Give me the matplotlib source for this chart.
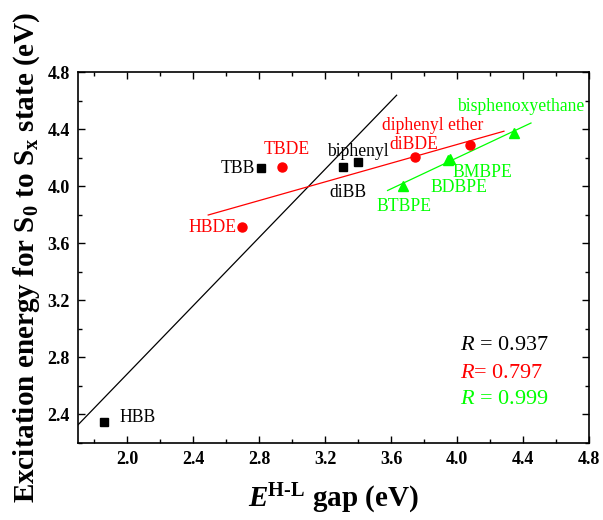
import numpy as np
import matplotlib
matplotlib.use("Agg")
import matplotlib.pyplot as plt
from matplotlib.ticker import MultipleLocator, FormatStrFormatter

plt.rcParams['font.family'] = ['Liberation Serif', 'DejaVu Serif']
plt.rcParams['mathtext.fontset'] = 'custom'
plt.rcParams['mathtext.rm'] = 'Liberation Serif'
plt.rcParams['mathtext.it'] = 'Liberation Serif:italic'
plt.rcParams['mathtext.bf'] = 'Liberation Serif:bold'
plt.rcParams['mathtext.bfit'] = 'Liberation Serif:bold:italic'

# Black series (bromobiphenyls)
bb_names = ["HBB", "TBB", "diBB", "biphenyl"]
bb_x = [1.858, 2.812, 3.305, 3.396]
bb_y = [2.344, 4.126, 4.133, 4.168]

# Red series (bromodiphenyl ethers)
de_names = ["HBDE", "TBDE", "diBDE", "diphenyl ether"]
de_x = [2.697, 2.940, 3.743, 4.077]
de_y = [3.712, 4.133, 4.203, 4.288]

# Green series (bromophenoxy ethanes)
pe_names = ["BTBPE", "BDBPE", "BMBPE", "bisphenoxyethane"]
pe_x = [3.670, 3.945, 3.955, 4.344]
pe_y = [4.000, 4.185, 4.192, 4.372]

# Fit line x-extents
bb_fit_range = [1.70, 3.633]
de_fit_range = [2.49, 4.284]
pe_fit_range = [3.578, 4.448]

r_texts = [r"$R$ = 0.937", r"$R$= 0.797", r"$R$ = 0.999"]

RED = "#ff0000"
GREEN = "#00ff00"

fig = plt.figure(figsize=(6.03, 5.20), dpi=100)
ax = fig.add_axes([78/603, 1-443/520, (589-78)/603, (443-72)/520])

def fit_line(xs, ys, rng, color):
    k, b = np.polyfit(xs, ys, 1)
    xx = np.array(rng)
    ax.plot(xx, k*xx + b, color=color, lw=0.9, zorder=2)

fit_line(bb_x, bb_y, bb_fit_range, "black")
fit_line(de_x, de_y, de_fit_range, RED)
fit_line(pe_x, pe_y, pe_fit_range, GREEN)

ax.plot(bb_x, bb_y, 's', color='black', ms=5.5, zorder=3)
ax.plot(de_x, de_y, 'o', color=RED, ms=6.5, zorder=3)
ax.plot(pe_x, pe_y, '^', color=GREEN, ms=7.5, zorder=3)

fs = 12.7
# labels: (text, x, y, ha, color)
labels = [
    ("HBB", 1.95, 2.379, 'left', 'black'),
    ("TBB", 2.776, 4.126, 'right', 'black'),
    ("diBB", 3.335, 3.958, 'center', 'black'),
    ("biphenyl", 3.396, 4.246, 'center', 'black'),
    ("HBDE", 2.697 - 0.035, 3.712, 'right', RED),
    ("TBDE", 2.964, 4.26, 'center', RED),
    ("diBDE", 3.737, 4.295, 'center', RED),
    ("diphenyl ether", 3.852, 4.428, 'center', RED),
    ("BTBPE", 3.676, 3.86, 'center', GREEN),
    ("BDBPE", 4.010, 3.993, 'center', GREEN),
    ("BMBPE", 4.156, 4.098, 'center', GREEN),
    ("bisphenoxyethane", 4.387, 4.561, 'center', GREEN),
]
for t, x, y, ha, c in labels:
    ax.text(x, y, t, ha=ha, va='center', color=c, fontsize=fs)

r_colors = ['black', RED, GREEN]
r_y = [2.884, 2.688, 2.505]
for t, c, y in zip(r_texts, r_colors, r_y):
    ax.text(4.016, y, t, color=c, fontsize=16, ha='left', va='center')

ax.set_xlim(1.7, 4.8)
ax.set_ylim(2.2, 4.8)
ax.set_xticks(np.arange(2.0, 4.81, 0.4))
ax.set_yticks(np.arange(2.4, 4.81, 0.4))
ax.xaxis.set_minor_locator(MultipleLocator(0.2))
ax.yaxis.set_minor_locator(MultipleLocator(0.2))
ax.xaxis.set_major_formatter(FormatStrFormatter('%.1f'))
ax.yaxis.set_major_formatter(FormatStrFormatter('%.1f'))
ax.tick_params(which='both', direction='in', top=True, right=True, width=1.0)
ax.tick_params(which='major', length=5, labelsize=13, pad=6)
ax.tick_params(which='minor', length=3)
for lab in ax.get_xticklabels() + ax.get_yticklabels():
    lab.set_fontweight('bold')
for s in ax.spines.values():
    s.set_linewidth(1.2)

ax.set_xlabel(r"$\boldsymbol{E}^{\mathbf{H\text{-}L}}$ gap (eV)", fontsize=21, fontweight='bold', labelpad=10)
ax.set_ylabel(r"Excitation energy for S$_\mathbf{0}$ to S$_\mathbf{x}$ state (eV)", fontsize=21, fontweight='bold', labelpad=4)

fig.savefig("out.png", dpi=100)
